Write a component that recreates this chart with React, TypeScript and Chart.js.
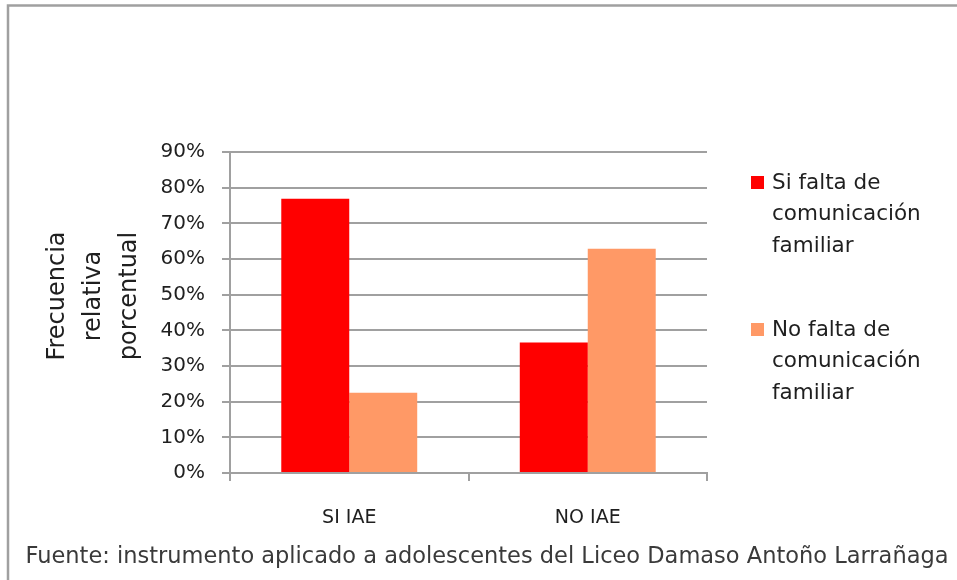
import React, { useEffect, useRef } from "react";
import { Chart, registerables } from "chart.js";

Chart.register(...registerables);

const categories = ["SI IAE", "NO IAE"];
const seriesNames = [
  "Si falta de comunicación familiar",
  "No falta de comunicación familiar",
];
const siFalta = [76.9, 36.6];
const noFalta = [22.5, 62.9];
const seriesColors = ["#FF0000", "#FF9966"];
const yTitleLines = ["Frecuencia", "relativa", "porcentual"];
const yMax = 90;
const yStep = 10;
const caption =
  "Fuente: instrumento aplicado a adolescentes del Liceo Damaso Antoño Larrañaga";

const FONT = "'DejaVu Sans', sans-serif";
const GRID = "#a0a0a0";

function wrap(ctx: CanvasRenderingContext2D, text: string, maxW: number) {
  const words = text.split(" ");
  const lines: string[] = [];
  let cur = "";
  for (const w of words) {
    const t = cur ? cur + " " + w : w;
    if (cur && ctx.measureText(t).width > maxW) {
      lines.push(cur);
      cur = w;
    } else cur = t;
  }
  if (cur) lines.push(cur);
  return lines;
}

const decorPlugin = {
  id: "decor",
  afterDraw(chart: any) {
    const ctx: CanvasRenderingContext2D = chart.ctx;
    ctx.save();
    // frame
    ctx.strokeStyle = GRID;
    ctx.lineWidth = 2.5;
    ctx.beginPath();
    ctx.moveTo(957, 5.5);
    ctx.lineTo(8, 5.5);
    ctx.lineTo(8, 580);
    ctx.stroke();

    // y title
    ctx.fillStyle = "#1f1f1f";
    ctx.font = `24px ${FONT}`;
    ctx.textAlign = "center";
    ctx.textBaseline = "middle";
    yTitleLines.forEach((line, i) => {
      ctx.save();
      ctx.translate(58 + i * 36, 296);
      ctx.rotate(-Math.PI / 2);
      ctx.fillText(line, 0, 0);
      ctx.restore();
    });

    // legend
    ctx.font = `21.5px ${FONT}`;
    ctx.textAlign = "left";
    ctx.textBaseline = "middle";
    const lineH = 31.5;
    chart.data.datasets.forEach((ds: any, i: number) => {
      const top = 183 + i * 147;
      ctx.fillStyle = ds.backgroundColor;
      ctx.fillRect(751, top - 7, 13, 13);
      ctx.fillStyle = "#1f1f1f";
      const lines = wrap(ctx, ds.label, 165);
      lines.forEach((l, j) => ctx.fillText(l, 772, top + j * lineH));
    });

    // caption
    ctx.fillStyle = "#3a3a3a";
    ctx.font = `22.5px ${FONT}`;
    ctx.textAlign = "center";
    ctx.fillText(caption, 487, 557);
    ctx.restore();
  },
};

export default function App() {
  const ref = useRef<HTMLCanvasElement>(null);
  useEffect(() => {
    if (!ref.current) return;
    const chart = new Chart(ref.current, {
      type: "bar",
      data: {
        labels: categories,
        datasets: [
          {
            label: seriesNames[0],
            data: siFalta,
            backgroundColor: seriesColors[0],
            categoryPercentage: 0.57,
            barPercentage: 1,
          },
          {
            label: seriesNames[1],
            data: noFalta,
            backgroundColor: seriesColors[1],
            categoryPercentage: 0.57,
            barPercentage: 1,
          },
        ],
      },
      options: {
        responsive: false,
        animation: false,
        layout: { padding: { left: 0, top: 152, right: 250, bottom: 0 } },
        plugins: {
          legend: { display: false },
          tooltip: { enabled: false },
          title: { display: false },
        },
        scales: {
          x: {
            afterFit: (s: any) => {
              s.height = 107;
            },
            grid: {
              drawOnChartArea: false,
              drawTicks: true,
              tickLength: 8,
              color: GRID,
              lineWidth: 2,
            },
            border: { display: true, color: GRID, width: 2 },
            ticks: {
              color: "#1f1f1f",
              font: { family: FONT, size: 19 },
              padding: 26,
            },
          },
          y: {
            min: 0,
            max: yMax,
            afterFit: (s: any) => {
              s.width = 230;
            },
            grid: {
              color: GRID,
              lineWidth: 2,
              drawTicks: true,
              tickLength: 8,
            },
            border: { display: true, color: GRID, width: 2 },
            ticks: {
              stepSize: yStep,
              color: "#1f1f1f",
              font: { family: FONT, size: 20 },
              padding: 17,
              callback: (v: any) => v + "%",
            },
          },
        },
      },
      plugins: [decorPlugin],
    });
    return () => chart.destroy();
  }, []);
  return (
    <div style={{ position: "fixed", left: 0, top: 0, width: 957, height: 580, background: "#fff" }}>
      <canvas ref={ref} width={957} height={580} style={{ display: "block" }} />
    </div>
  );
}
